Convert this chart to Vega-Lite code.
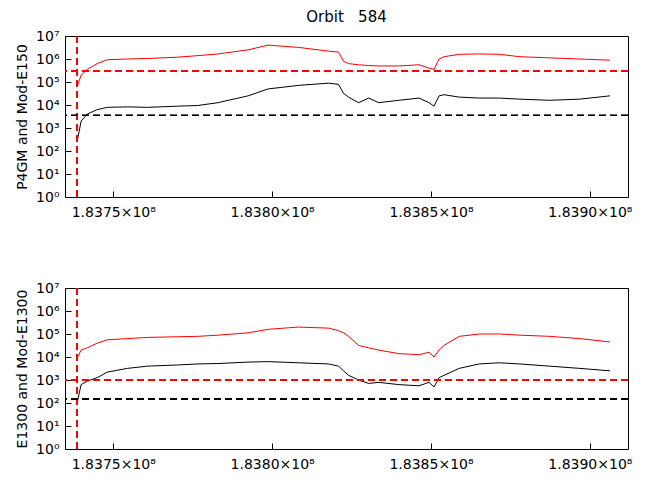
{
  "$schema": "https://vega.github.io/schema/vega-lite/v6.json",
  "padding": {"left": 15, "top": 9, "right": 10, "bottom": 5},
  "background": "white",
  "config": {
    "font": "DejaVu Sans",
    "view": {"stroke": "black", "strokeWidth": 1},
    "axis": {"grid": false, "domain": false, "tickColor": "black", "labelColor": "black", "titleColor": "black", "labelFontSize": 14, "titleFontSize": 14, "titleFontWeight": "normal", "tickSize": -6, "titlePadding": 6},
    "title": {"fontSize": 15, "fontWeight": "normal", "color": "black"}
  },
  "datasets": {
    "trace": [
      {"p":"top","s":"red","t":183738607,"v":6.0e4},
      {"p":"top","s":"red","t":183739873,"v":2.0e5},
      {"p":"top","s":"red","t":183741772,"v":3.5e5},
      {"p":"top","s":"red","t":183744937,"v":6.3e5},
      {"p":"top","s":"red","t":183748101,"v":9.3e5},
      {"p":"top","s":"red","t":183754430,"v":1.0e6},
      {"p":"top","s":"red","t":183760760,"v":1.05e6},
      {"p":"top","s":"red","t":183770253,"v":1.2e6},
      {"p":"top","s":"red","t":183776583,"v":1.4e6},
      {"p":"top","s":"red","t":183782912,"v":1.66e6},
      {"p":"top","s":"red","t":183792405,"v":2.5e6},
      {"p":"top","s":"red","t":183798734,"v":4.0e6},
      {"p":"top","s":"red","t":183808228,"v":3.2e6},
      {"p":"top","s":"red","t":183817722,"v":2.2e6},
      {"p":"top","s":"red","t":183820886,"v":2.0e6},
      {"p":"top","s":"red","t":183822469,"v":7.9e5},
      {"p":"top","s":"red","t":183824051,"v":6.3e5},
      {"p":"top","s":"red","t":183827216,"v":5.6e5},
      {"p":"top","s":"red","t":183830380,"v":5.2e5},
      {"p":"top","s":"red","t":183833545,"v":5.0e5},
      {"p":"top","s":"red","t":183839873,"v":5.0e5},
      {"p":"top","s":"red","t":183846204,"v":5.6e5},
      {"p":"top","s":"red","t":183849368,"v":4.0e5},
      {"p":"top","s":"red","t":183850950,"v":3.5e5},
      {"p":"top","s":"red","t":183852533,"v":1.0e6},
      {"p":"top","s":"red","t":183854115,"v":1.26e6},
      {"p":"top","s":"red","t":183858862,"v":1.6e6},
      {"p":"top","s":"red","t":183865191,"v":1.66e6},
      {"p":"top","s":"red","t":183871521,"v":1.6e6},
      {"p":"top","s":"red","t":183877850,"v":1.26e6},
      {"p":"top","s":"red","t":183887344,"v":1.12e6},
      {"p":"top","s":"red","t":183896837,"v":1.0e6},
      {"p":"top","s":"red","t":183906331,"v":8.9e5},
      {"p":"top","s":"black","t":183738607,"v":2.5e2},
      {"p":"top","s":"black","t":183739873,"v":2.0e3},
      {"p":"top","s":"black","t":183741772,"v":4.0e3},
      {"p":"top","s":"black","t":183744937,"v":6.3e3},
      {"p":"top","s":"black","t":183748101,"v":7.9e3},
      {"p":"top","s":"black","t":183754430,"v":8.3e3},
      {"p":"top","s":"black","t":183760760,"v":7.9e3},
      {"p":"top","s":"black","t":183770253,"v":8.9e3},
      {"p":"top","s":"black","t":183776583,"v":9.5e3},
      {"p":"top","s":"black","t":183782912,"v":1.26e4},
      {"p":"top","s":"black","t":183792405,"v":2.5e4},
      {"p":"top","s":"black","t":183798734,"v":5.0e4},
      {"p":"top","s":"black","t":183808228,"v":7.1e4},
      {"p":"top","s":"black","t":183817722,"v":8.9e4},
      {"p":"top","s":"black","t":183820886,"v":7.9e4},
      {"p":"top","s":"black","t":183822469,"v":3.2e4},
      {"p":"top","s":"black","t":183824051,"v":2.2e4},
      {"p":"top","s":"black","t":183827216,"v":1.26e4},
      {"p":"top","s":"black","t":183830380,"v":2.0e4},
      {"p":"top","s":"black","t":183833545,"v":1.26e4},
      {"p":"top","s":"black","t":183839873,"v":1.6e4},
      {"p":"top","s":"black","t":183846204,"v":2.0e4},
      {"p":"top","s":"black","t":183849368,"v":1.26e4},
      {"p":"top","s":"black","t":183850950,"v":8.9e3},
      {"p":"top","s":"black","t":183852533,"v":2.5e4},
      {"p":"top","s":"black","t":183854115,"v":2.8e4},
      {"p":"top","s":"black","t":183858862,"v":2.2e4},
      {"p":"top","s":"black","t":183865191,"v":2.0e4},
      {"p":"top","s":"black","t":183871521,"v":2.0e4},
      {"p":"top","s":"black","t":183877850,"v":1.8e4},
      {"p":"top","s":"black","t":183887344,"v":1.6e4},
      {"p":"top","s":"black","t":183896837,"v":1.8e4},
      {"p":"top","s":"black","t":183906331,"v":2.5e4},
      {"p":"bot","s":"red","t":183738607,"v":8.9e3},
      {"p":"bot","s":"red","t":183739873,"v":2.0e4},
      {"p":"bot","s":"red","t":183741772,"v":2.5e4},
      {"p":"bot","s":"red","t":183744937,"v":4.0e4},
      {"p":"bot","s":"red","t":183748101,"v":5.6e4},
      {"p":"bot","s":"red","t":183754430,"v":6.3e4},
      {"p":"bot","s":"red","t":183760760,"v":7.1e4},
      {"p":"bot","s":"red","t":183770253,"v":7.6e4},
      {"p":"bot","s":"red","t":183776583,"v":7.9e4},
      {"p":"bot","s":"red","t":183782912,"v":8.9e4},
      {"p":"bot","s":"red","t":183792405,"v":1.12e5},
      {"p":"bot","s":"red","t":183798734,"v":1.6e5},
      {"p":"bot","s":"red","t":183808228,"v":2.0e5},
      {"p":"bot","s":"red","t":183817722,"v":1.8e5},
      {"p":"bot","s":"red","t":183820886,"v":1.4e5},
      {"p":"bot","s":"red","t":183822469,"v":1.12e5},
      {"p":"bot","s":"red","t":183824051,"v":7.9e4},
      {"p":"bot","s":"red","t":183827216,"v":3.2e4},
      {"p":"bot","s":"red","t":183830380,"v":2.5e4},
      {"p":"bot","s":"red","t":183833545,"v":2.0e4},
      {"p":"bot","s":"red","t":183839873,"v":1.4e4},
      {"p":"bot","s":"red","t":183846204,"v":1.26e4},
      {"p":"bot","s":"red","t":183849368,"v":1.6e4},
      {"p":"bot","s":"red","t":183850950,"v":1.0e4},
      {"p":"bot","s":"red","t":183852533,"v":2.0e4},
      {"p":"bot","s":"red","t":183854115,"v":3.2e4},
      {"p":"bot","s":"red","t":183858862,"v":7.9e4},
      {"p":"bot","s":"red","t":183865191,"v":1.0e5},
      {"p":"bot","s":"red","t":183871521,"v":1.0e5},
      {"p":"bot","s":"red","t":183877850,"v":8.9e4},
      {"p":"bot","s":"red","t":183887344,"v":7.9e4},
      {"p":"bot","s":"red","t":183896837,"v":6.3e4},
      {"p":"bot","s":"red","t":183906331,"v":4.5e4},
      {"p":"bot","s":"black","t":183738607,"v":1.0e2},
      {"p":"bot","s":"black","t":183739873,"v":6.3e2},
      {"p":"bot","s":"black","t":183741772,"v":8.9e2},
      {"p":"bot","s":"black","t":183744937,"v":1.26e3},
      {"p":"bot","s":"black","t":183748101,"v":2.2e3},
      {"p":"bot","s":"black","t":183754430,"v":3.2e3},
      {"p":"bot","s":"black","t":183760760,"v":4.0e3},
      {"p":"bot","s":"black","t":183770253,"v":4.5e3},
      {"p":"bot","s":"black","t":183776583,"v":5.0e3},
      {"p":"bot","s":"black","t":183782912,"v":5.2e3},
      {"p":"bot","s":"black","t":183792405,"v":6.0e3},
      {"p":"bot","s":"black","t":183798734,"v":6.3e3},
      {"p":"bot","s":"black","t":183808228,"v":5.6e3},
      {"p":"bot","s":"black","t":183817722,"v":5.0e3},
      {"p":"bot","s":"black","t":183820886,"v":4.0e3},
      {"p":"bot","s":"black","t":183822469,"v":2.5e3},
      {"p":"bot","s":"black","t":183824051,"v":1.6e3},
      {"p":"bot","s":"black","t":183827216,"v":1.0e3},
      {"p":"bot","s":"black","t":183830380,"v":7.1e2},
      {"p":"bot","s":"black","t":183833545,"v":7.9e2},
      {"p":"bot","s":"black","t":183839873,"v":6.3e2},
      {"p":"bot","s":"black","t":183846204,"v":5.6e2},
      {"p":"bot","s":"black","t":183849368,"v":7.9e2},
      {"p":"bot","s":"black","t":183850950,"v":5.0e2},
      {"p":"bot","s":"black","t":183852533,"v":1.26e3},
      {"p":"bot","s":"black","t":183854115,"v":1.6e3},
      {"p":"bot","s":"black","t":183858862,"v":3.2e3},
      {"p":"bot","s":"black","t":183865191,"v":5.0e3},
      {"p":"bot","s":"black","t":183871521,"v":5.6e3},
      {"p":"bot","s":"black","t":183877850,"v":5.0e3},
      {"p":"bot","s":"black","t":183887344,"v":4.0e3},
      {"p":"bot","s":"black","t":183896837,"v":3.2e3},
      {"p":"bot","s":"black","t":183906331,"v":2.5e3}
    ]
  },
  "spacing": 60,
  "vconcat": [
    {
      "width": 563,
      "height": 161,
      "title": {"text": "Orbit\u00a0\u00a0\u00a0584", "offset": 4},
      "data": {"name": "trace"},
      "transform": [{"filter": "datum.p == 'top'"}],
      "encoding": {
        "x": {"field": "t", "type": "quantitative", "scale": {"domain": [183734800, 183912000], "nice": false, "zero": false}, "axis": {"title": null, "values": [183750000, 183800000, 183850000, 183900000], "labelExpr": "format(datum.value/1e8, '.4f') + '×10⁸'", "labelPadding": 14}},
        "y": {"field": "v", "type": "quantitative", "scale": {"type": "log", "domain": [1, 10000000], "nice": false}, "axis": {"title": "P4GM and Mod-E150", "values": [1, 10, 100, 1000, 10000, 100000, 1000000, 10000000], "labelExpr": "'10' + ['⁰','¹','²','³','⁴','⁵','⁶','⁷'][round(log(datum.value)/LN10)]", "labelPadding": 12}}
      },
      "layer": [
        {"mark": {"type": "line", "strokeWidth": 1}, "encoding": {"color": {"field": "s", "type": "nominal", "scale": {"domain": ["red", "black"], "range": ["#ff0000", "#000000"]}, "legend": null}}},
        {"mark": {"type": "rule", "color": "#ff0000", "strokeWidth": 1, "strokeDash": [7, 4]}, "encoding": {"x": {"datum": 183738600}, "y": null}},
        {"mark": {"type": "rule", "color": "#ff0000", "strokeWidth": 1, "strokeDash": [7, 4]}, "encoding": {"x": null, "y": {"datum": 300000}}},
        {"mark": {"type": "rule", "color": "#000000", "strokeWidth": 1, "strokeDash": [7, 4]}, "encoding": {"x": null, "y": {"datum": 3500}}}
      ]
    },
    {
      "width": 563,
      "height": 161,
      "data": {"name": "trace"},
      "transform": [{"filter": "datum.p == 'bot'"}],
      "encoding": {
        "x": {"field": "t", "type": "quantitative", "scale": {"domain": [183734800, 183912000], "nice": false, "zero": false}, "axis": {"title": null, "values": [183750000, 183800000, 183850000, 183900000], "labelExpr": "format(datum.value/1e8, '.4f') + '×10⁸'", "labelPadding": 14}},
        "y": {"field": "v", "type": "quantitative", "scale": {"type": "log", "domain": [1, 10000000], "nice": false}, "axis": {"title": "E1300 and Mod-E1300", "values": [1, 10, 100, 1000, 10000, 100000, 1000000, 10000000], "labelExpr": "'10' + ['⁰','¹','²','³','⁴','⁵','⁶','⁷'][round(log(datum.value)/LN10)]", "labelPadding": 12}}
      },
      "layer": [
        {"mark": {"type": "line", "strokeWidth": 1}, "encoding": {"color": {"field": "s", "type": "nominal", "scale": {"domain": ["red", "black"], "range": ["#ff0000", "#000000"]}, "legend": null}}},
        {"mark": {"type": "rule", "color": "#ff0000", "strokeWidth": 1, "strokeDash": [7, 4]}, "encoding": {"x": {"datum": 183738600}, "y": null}},
        {"mark": {"type": "rule", "color": "#ff0000", "strokeWidth": 1, "strokeDash": [7, 4]}, "encoding": {"x": null, "y": {"datum": 1000}}},
        {"mark": {"type": "rule", "color": "#000000", "strokeWidth": 1, "strokeDash": [7, 4]}, "encoding": {"x": null, "y": {"datum": 150}}}
      ]
    }
  ]
}
